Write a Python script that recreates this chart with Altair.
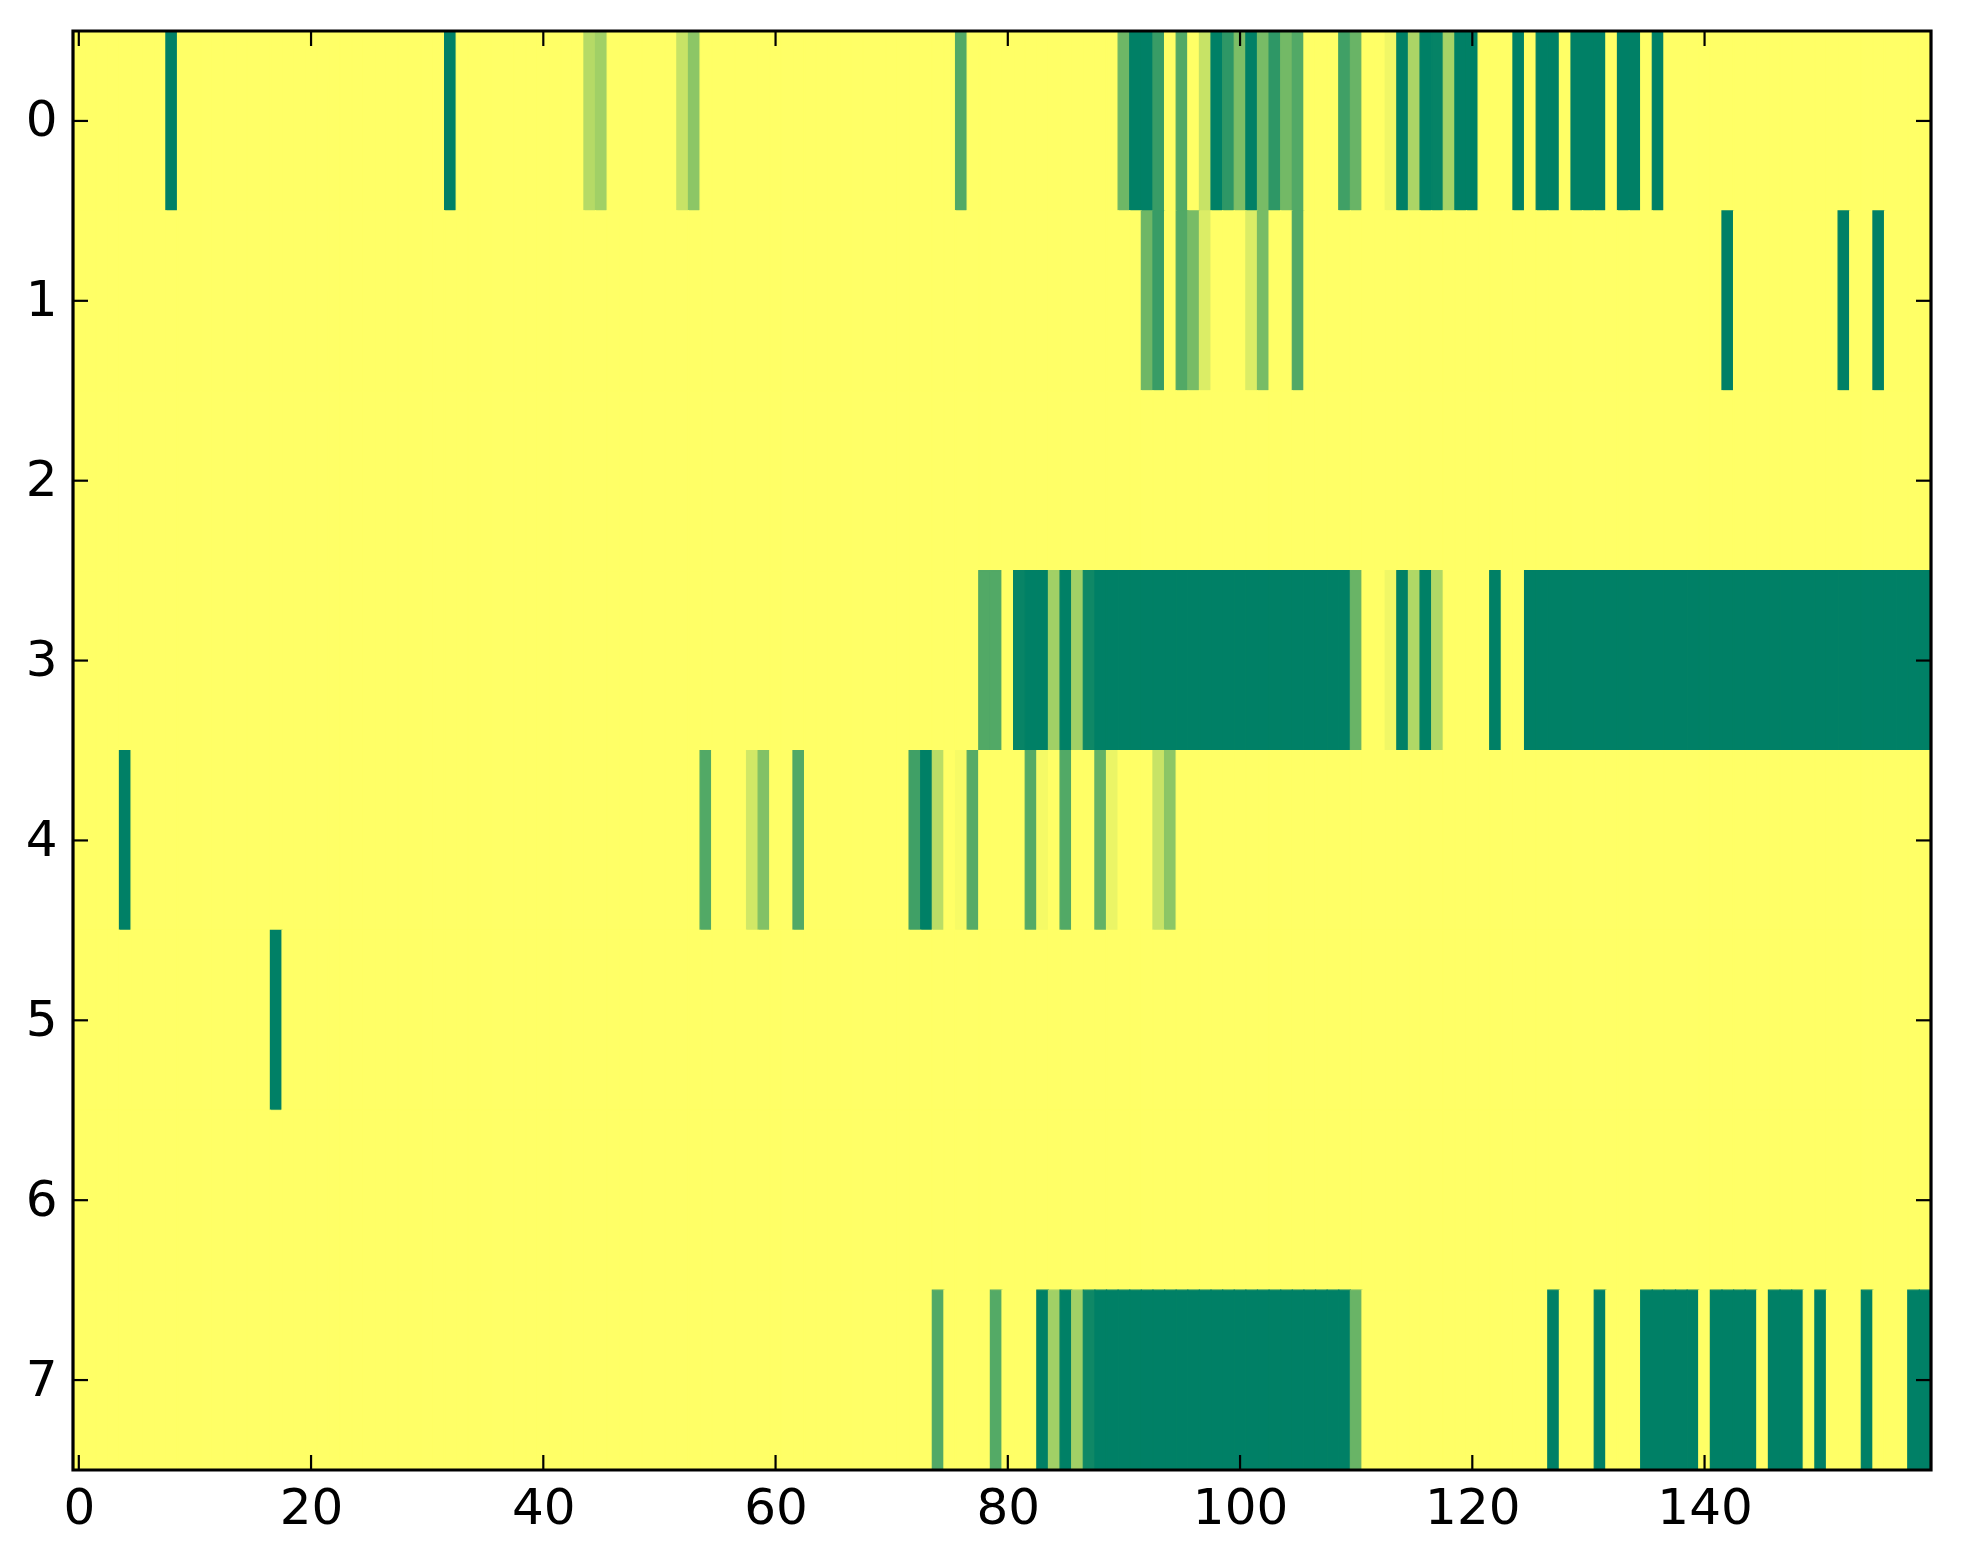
import altair as alt
import pandas as pd

N_ROWS = 8
N_COLS = 160

# Non-zero cells per row: column indices and values (all other cells are 0)
row0_cols = [8, 32, 44, 45, 52, 53, 76, 90, 91, 92, 93, 95, 97, 98, 99, 100, 101, 102, 103, 104, 105,
             109, 110, 113, 114, 115, 116, 117, 118, 119, 120, 124, 126, 127, 129, 130, 131, 133, 134, 136]
row0_vals = [1, 1, 0.29, 0.37, 0.22, 0.45, 0.68, 0.57, 1, 1, 0.78, 0.68, 0.22, 1, 0.82, 0.51, 1, 0.53, 0.82, 0.55, 0.68,
             0.75, 0.59, 0.06, 1, 0.33, 1, 0.98, 0.35, 1, 1, 1, 1, 1, 1, 1, 1, 1, 1, 1]

row1_cols = [92, 93, 95, 96, 97, 101, 102, 105, 142, 152, 155]
row1_vals = [0.57, 0.78, 0.68, 0.53, 0.14, 0.14, 0.53, 0.68, 1, 1, 1]

row2_cols = []
row2_vals = []

row3_cols = [78, 79, 81, 82, 83, 84, 85, 86, 87,
             88, 89, 90, 91, 92, 93, 94, 95, 96, 97, 98, 99, 100, 101, 102, 103, 104, 105, 106, 107, 108, 109,
             110, 113, 114, 115, 116, 117, 122,
             125, 126, 127, 128, 129, 130, 131, 132, 133, 134, 135, 136, 137, 138, 139, 140, 141, 142,
             143, 144, 145, 146, 147, 148, 149, 150, 151, 152, 153, 154, 155, 156, 157, 158, 159]
row3_vals = [0.68, 0.68, 0.97, 1, 1, 0.37, 1, 0.37, 0.94,
             1, 1, 1, 1, 1, 1, 1, 1, 1, 1, 1, 1, 1, 1, 1, 1, 1, 1, 1, 1, 1, 1,
             0.59, 0.06, 1, 0.31, 1, 0.31, 1,
             1, 1, 1, 1, 1, 1, 1, 1, 1, 1, 1, 1, 1, 1, 1, 1, 1, 1,
             1, 1, 1, 1, 1, 1, 1, 1, 1, 1, 1, 1, 1, 1, 1, 1, 1]

row4_cols = [4, 54, 58, 59, 62, 72, 73, 74, 76, 77, 82, 83, 85, 88, 89, 93, 94]
row4_vals = [1, 0.68, 0.18, 0.49, 0.68, 0.75, 1, 0.27, 0.03, 0.66, 0.67, 0.04, 0.68, 0.61, 0.08, 0.22, 0.45]

row5_cols = [17]
row5_vals = [1]

row6_cols = []
row6_vals = []

row7_cols = [74, 79, 83, 84, 85, 86, 87,
             88, 89, 90, 91, 92, 93, 94, 95, 96, 97, 98, 99, 100, 101, 102, 103, 104, 105, 106, 107, 108, 109,
             110, 127, 131, 135, 136, 137, 138, 139, 141, 142, 143, 144, 146, 147, 148, 150, 154, 158, 159]
row7_vals = [0.68, 0.67, 1, 0.37, 1, 0.37, 0.94,
             1, 1, 1, 1, 1, 1, 1, 1, 1, 1, 1, 1, 1, 1, 1, 1, 1, 1, 1, 1, 1, 1,
             0.59, 1, 1, 1, 1, 1, 1, 1, 1, 1, 1, 1, 1, 1, 1, 1, 1, 1, 1]

x_tick_values = [0, 20, 40, 60, 80, 100, 120, 140]
y_tick_values = [0, 1, 2, 3, 4, 5, 6, 7]

rows = [(row0_cols, row0_vals), (row1_cols, row1_vals), (row2_cols, row2_vals), (row3_cols, row3_vals),
        (row4_cols, row4_vals), (row5_cols, row5_vals), (row6_cols, row6_vals), (row7_cols, row7_vals)]

records = []
for r, (cols, vals) in enumerate(rows):
    assert len(cols) == len(vals)
    lookup = dict(zip(cols, vals))
    for c in range(N_COLS):
        records.append({"r0": r - 0.5, "r1": r + 0.5, "c0": c - 0.5, "c1": c + 0.5, "v": lookup.get(c, 0.0)})
cells = pd.DataFrame(records)

W = 1858
H = 1439
TICK = 15
FONT = "DejaVu Sans"
FS = 50

xscale = alt.Scale(domain=[-0.5, N_COLS - 0.5], nice=False, zero=False)
yscale = alt.Scale(domain=[-0.5, N_ROWS - 0.5], nice=False, zero=False, reverse=True)
cscale = alt.Scale(domain=[0, 1], range=["#ffff66", "#008066"], interpolate="rgb")

xaxis = alt.Axis(values=x_tick_values, format="d", ticks=False, tickSize=0, domain=False, grid=False,
                 labelFont=FONT, labelFontSize=FS, labelColor="black", labelPadding=13,
                 labelFlush=False, labelOverlap=False, title=None)
yaxis = alt.Axis(values=y_tick_values, format="d", ticks=False, tickSize=0, domain=False, grid=False,
                 labelFont=FONT, labelFontSize=FS, labelColor="black", labelPadding=16,
                 labelFlush=False, labelOverlap=False, minExtent=56, maxExtent=56, title=None)

heat = alt.Chart(cells).mark_rect(strokeWidth=1.2, clip=True).encode(
    x=alt.X("c0:Q", scale=xscale, axis=xaxis, title=None),
    x2="c1:Q",
    y=alt.Y("r0:Q", scale=yscale, axis=yaxis, title=None),
    y2="r1:Q",
    color=alt.Color("v:Q", scale=cscale, legend=None),
    stroke=alt.Stroke("v:Q", scale=cscale, legend=None),
)

xt = pd.DataFrame({"t": x_tick_values})
yt = pd.DataFrame({"t": y_tick_values})

xticks_bottom = alt.Chart(xt).mark_rule(color="black", strokeWidth=2.2).encode(
    x=alt.X("t:Q", scale=xscale, axis=xaxis, title=None), y=alt.value(H), y2=alt.value(H - TICK))
xticks_top = alt.Chart(xt).mark_rule(color="black", strokeWidth=2.2).encode(
    x=alt.X("t:Q", scale=xscale, axis=xaxis, title=None), y=alt.value(0), y2=alt.value(TICK))
yticks_left = alt.Chart(yt).mark_rule(color="black", strokeWidth=2.2).encode(
    y=alt.Y("t:Q", scale=yscale, axis=yaxis, title=None), x=alt.value(0), x2=alt.value(TICK))
yticks_right = alt.Chart(yt).mark_rule(color="black", strokeWidth=2.2).encode(
    y=alt.Y("t:Q", scale=yscale, axis=yaxis, title=None), x=alt.value(W), x2=alt.value(W - TICK))

frame = alt.Chart(pd.DataFrame({"k": [0]})).mark_rect(
    fill=None, fillOpacity=0, stroke="black", strokeWidth=3.2).encode(
    x=alt.value(0), x2=alt.value(W), y=alt.value(0), y2=alt.value(H))

chart = alt.layer(heat, xticks_bottom, xticks_top, yticks_left, yticks_right, frame).properties(
    width=W, height=H,
    padding={"left": 9, "top": 21, "right": 10, "bottom": 5},
    background="white",
).configure_view(
    stroke=None, fill="#ffff66"
)

chart.save("out.html", embed_options={"renderer": "svg", "actions": False})
